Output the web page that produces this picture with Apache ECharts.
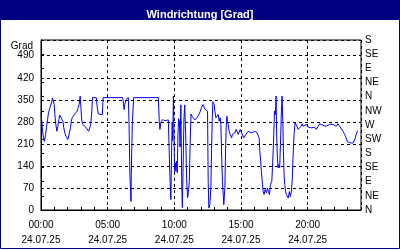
<!DOCTYPE html>
<html>
<head>
<meta charset="utf-8">
<script src="https://cdn.jsdelivr.net/npm/echarts@6/dist/echarts.min.js"></script>
<style>
html,body{margin:0;padding:0;background:#fff;}
#chart{width:400px;height:250px;}
</style>
</head>
<body>
<div id="chart"></div>
<script>
var titleText = 'Windrichtung [Grad]';
var yAxisName = 'Grad';
var dateLabel = '24.07.25';
var compassLabels = ['N','NE','E','SE','S','SW','W','NW','N','NE','E','SE','S'];
var hours = [
 0.00,0.12,0.19,0.26,0.34,0.41,0.49,0.56,0.64,0.71,0.79,0.86,0.94,0.99,1.04,1.11,1.19,1.26,1.34,1.41,1.49,1.56,1.64,1.71,1.79,1.86,1.94,2.02,2.10,2.16,2.21,2.27,2.34,2.41,2.49,2.56,2.64,2.71,2.79,2.86,2.94,3.01,3.06,3.13,3.21,3.36,3.51,3.58,3.66,3.73,3.81,3.86,4.15,4.22,4.30,4.60,4.66,
 6.13,6.18,6.23,6.28,6.38,6.55,6.60,6.65,6.67,6.72,6.75,6.77,6.82,6.85,6.90,6.95,
 8.80,8.87,8.92,9.00,9.12,9.30,9.45,9.55,9.62,9.67,9.74,9.80,9.84,9.88,9.93,9.97,10.02,10.07,10.12,10.17,10.22,10.27,10.32,10.38,10.43,10.49,10.55,10.60,10.65,10.72,10.78,10.85,10.92,10.99,11.05,11.12,11.18,11.25,11.35,11.45,11.55,11.65,11.75,11.85,11.95,12.05,12.15,12.22,12.30,12.42,12.49,12.54,12.59,12.66,12.74,12.79,12.84,12.89,12.99,13.04,13.12,13.19,13.29,13.36,13.44,13.49,13.54,13.61,13.71,13.79,13.84,13.89,13.94,13.99,14.04,14.11,14.19,14.29,14.36,14.44,14.54,14.64,14.71,14.79,14.86,14.94,15.04,15.11,15.21,15.29,15.36,15.44,15.54,15.61,15.69,15.79,15.86,15.94,16.04,16.11,16.21,16.28,16.36,16.41,16.48,16.53,16.61,16.66,16.73,16.81,16.91,16.98,17.06,17.13,17.21,17.31,17.36,17.41,17.46,17.51,17.58,17.63,17.68,17.73,17.78,17.83,17.90,17.96,18.03,18.08,18.13,18.18,18.23,18.28,18.35,18.40,18.48,18.55,18.63,18.70,18.78,18.85,18.90,18.98,19.05,19.13,19.20,19.28,19.35,19.43,19.50,19.58,19.65,19.73,19.80,19.90,19.97,20.05,20.15,20.27,20.40,20.52,20.65,20.77,20.90,21.02,21.15,21.27,21.40,21.52,21.65,21.77,21.90,22.02,22.15,22.27,22.40,22.52,22.65,22.77,22.89,22.97,23.04,23.12,23.19,23.27,23.34,23.42,23.49,23.57,23.64,23.72,23.77
];
var direction = [
 309,250,229,218,240,261,287,309,314,330,340,356,362,335,303,272,250,266,287,301,305,298,282,261,245,235,229,224,224,229,261,282,293,298,303,305,309,314,325,335,362,314,282,272,266,263,261,250,245,272,314,357,357,325,305,303,357,
 357,340,319,335,351,357,280,280,112,112,27,112,112,280,280,357,
 357,280,256,280,287,284,284,286,284,105,33,200,280,220,362,255,118,150,125,155,118,240,290,282,200,334,100,8,120,286,334,240,100,38,55,90,200,305,296,290,286,288,296,304,314,326,335,328,320,325,314,91,6,17,70,187,282,344,335,314,293,298,303,282,293,272,187,91,17,70,187,261,298,282,272,250,240,229,240,234,245,256,250,240,245,256,245,240,229,234,240,245,250,256,245,245,240,245,250,256,245,240,229,187,155,123,81,59,49,65,54,70,59,49,81,91,134,187,240,314,303,362,229,165,134,144,134,208,314,362,293,187,112,81,59,49,54,38,59,43,59,102,165,240,277,277,266,256,250,261,266,274,266,272,266,272,266,263,266,261,263,263,256,261,274,277,269,272,266,269,272,266,272,269,266,274,266,261,250,240,229,218,213,216,213,218,208,213,218,229,240,250,252
];
var lineData = hours.map(function (h, i) { return [h, direction[i]]; });

var FONT = '"Liberation Sans",Arial,sans-serif';
function pad(n){ return (n < 10 ? '0' : '') + n; }

var chart = echarts.init(document.getElementById('chart'), null, {renderer: 'canvas'});
chart.setOption({
  animation: false,
  backgroundColor: '#fff',
  graphic: [
    {type: 'rect', z: -10, shape: {x: 0, y: 0, width: 400, height: 20}, style: {fill: '#000080'}},
    {type: 'rect', z: -10, shape: {x: 0.5, y: 0.5, width: 399, height: 248}, style: {fill: 'none', stroke: '#000080', lineWidth: 1}}
  ],
  title: {
    text: titleText, left: 'center', top: 4,
    textStyle: {color: '#fff', fontSize: 11, fontWeight: 'bold', fontFamily: FONT}
  },
  grid: {left: 41, right: 39, top: 40, bottom: 40, show: true, borderColor: '#000', borderWidth: 1, backgroundColor: '#fff'},
  xAxis: [
    {
      type: 'value', min: 0, max: 24, interval: 5, position: 'bottom',
      axisLine: {show: true, lineStyle: {color: '#000', width: 1}},
      axisTick: {show: false},
      splitLine: {show: true, lineStyle: {color: '#000', type: [3, 3], width: 1}},
      axisLabel: {
        color: '#000', fontFamily: FONT, fontSize: 10, margin: 8, lineHeight: 15, showMaxLabel: false,
        formatter: function (v) { return pad(v) + ':00\n' + dateLabel; }
      }
    },
    {
      type: 'value', min: 0, max: 24, interval: 1, position: 'bottom',
      axisLine: {show: false},
      axisTick: {show: true, inside: true, length: 3, lineStyle: {color: '#000'}},
      axisLabel: {show: false},
      splitLine: {show: false}
    }
  ],
  yAxis: [
    {
      type: 'value', min: 0, max: 540, interval: 70, position: 'left',
      name: yAxisName, nameLocation: 'end', nameGap: -12,
      nameTextStyle: {color: '#000', fontFamily: FONT, fontSize: 10, align: 'right', padding: [0, 8, 0, 0]},
      axisLine: {show: true, lineStyle: {color: '#000'}},
      axisTick: {show: false},
      splitLine: {show: true, lineStyle: {color: '#000', type: [3, 3], width: 1}},
      axisLabel: {color: '#000', fontFamily: FONT, fontSize: 10, margin: 7, showMaxLabel: false}
    },
    {
      type: 'value', min: 0, max: 540, interval: 45, position: 'right',
      axisLine: {show: true, lineStyle: {color: '#000'}},
      axisTick: {show: true, inside: false, length: 3, lineStyle: {color: '#000'}},
      splitLine: {show: false},
      axisLabel: {
        color: '#000', fontFamily: FONT, fontSize: 10, margin: 4,
        formatter: function (v) { return compassLabels[Math.round(v / 45)]; }
      }
    }
  ],
  series: [{
    type: 'line', xAxisIndex: 0, yAxisIndex: 0, data: lineData,
    showSymbol: false, symbol: 'none',
    lineStyle: {color: '#0000ff', width: 1}
  }]
});
</script>
</body>
</html>
